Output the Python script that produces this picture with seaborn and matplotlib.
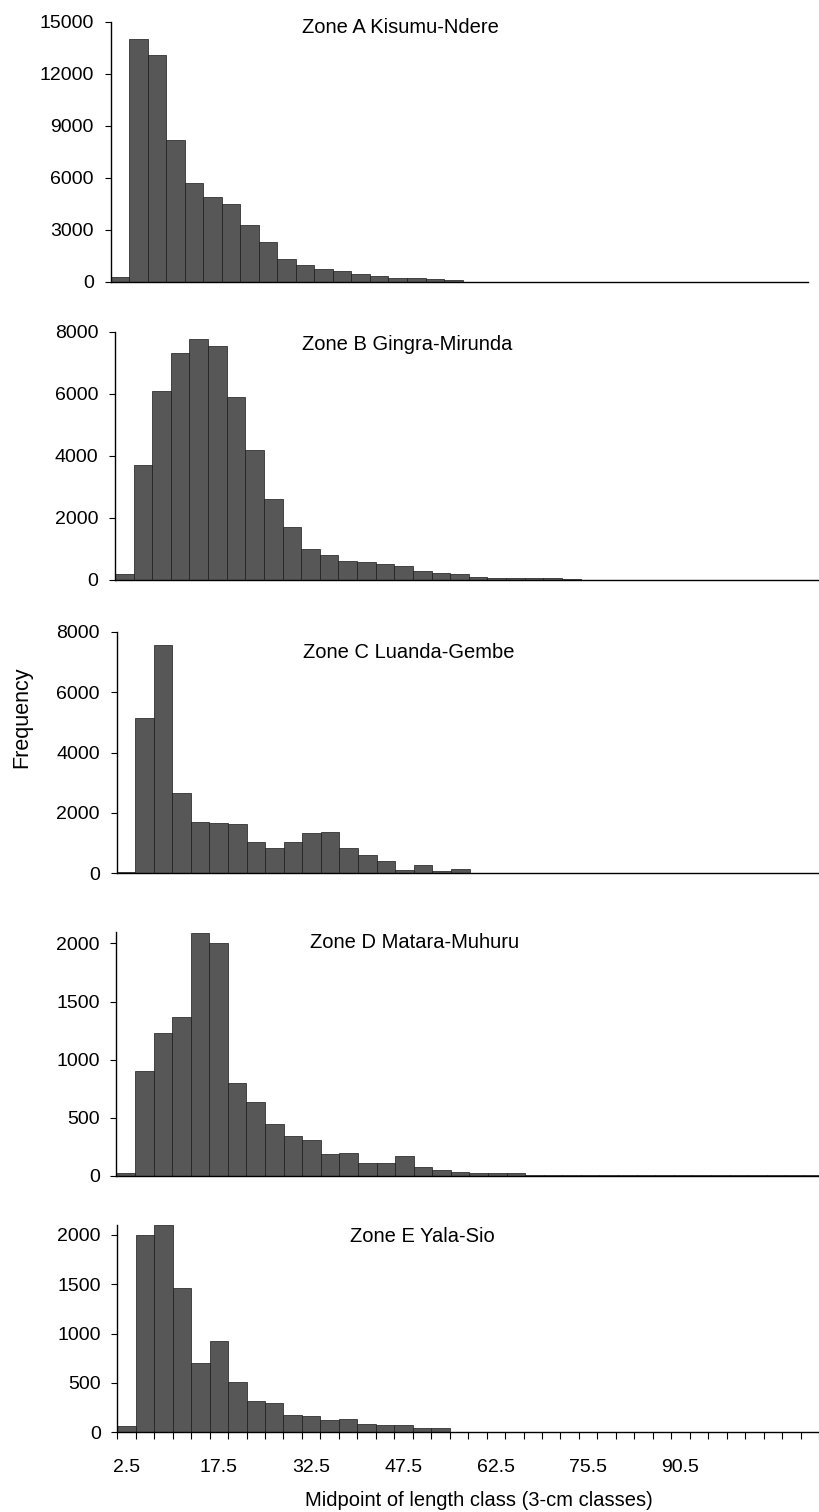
import matplotlib
matplotlib.use("Agg")
import matplotlib.pyplot as plt
import seaborn as sns
import numpy as np

# ---------------- data ----------------
midpoints = ["2.5", "5.5", "8.5", "11.5", "14.5", "17.5", "20.5", "23.5", "26.5", "29.5",
             "32.5", "35.5", "38.5", "41.5", "44.5", "47.5", "50.5", "53.5", "56.5", "59.5",
             "62.5", "65.5", "68.5", "71.5", "74.5", "77.5", "80.5", "83.5", "86.5", "89.5",
             "92.5", "95.5", "98.5", "101.5", "104.5", "107.5", "110.5", "113.5"]

zone_a = [300, 14000, 13100, 8200, 5700, 4900, 4500, 3300, 2300, 1350,
          1000, 750, 620, 480, 350, 250, 210, 155, 100, 10,
          5, 15, 15, 5, 5, 15, 15, 5, 0, 0,
          0, 0, 0, 0, 0, 0, 10, 10]
zone_b = [200, 3700, 6100, 7300, 7750, 7550, 5900, 4200, 2600, 1700,
          1000, 800, 620, 580, 530, 460, 300, 215, 200, 85,
          60, 50, 55, 50, 20, 10, 10, 5, 5, 5,
          5, 5, 5, 5, 5, 5, 5, 5]
zone_c = [50, 5150, 7550, 2650, 1700, 1650, 1620, 1050, 850, 1050,
          1320, 1360, 850, 600, 400, 120, 260, 80, 130, 0,
          0, 0, 0, 0, 0, 0, 5, 5, 5, 5,
          5, 5, 5, 5, 5, 5, 5, 5]
zone_d = [30, 900, 1230, 1370, 2090, 2000, 800, 640, 450, 340,
          310, 190, 200, 110, 110, 175, 75, 55, 35, 25,
          30, 25, 5, 5, 5, 5, 5, 5, 5, 5,
          5, 5, 5, 5, 5, 5, 5, 5]
zone_e = [60, 2000, 2100, 1460, 700, 920, 510, 320, 300, 180,
          165, 120, 130, 80, 70, 75, 45, 45, 0, 0,
          0, 0, 0, 0, 0, 0, 5, 0, 0, 0,
          0, 0, 0, 0, 0, 0, 0, 0]

titles = ["Zone A Kisumu-Ndere", "Zone B Gingra-Mirunda", "Zone C Luanda-Gembe",
          "Zone D Matara-Muhuru", "Zone E Yala-Sio"]
ytick_sets = [[0, 3000, 6000, 9000, 12000, 15000],
              [0, 2000, 4000, 6000, 8000],
              [0, 2000, 4000, 6000, 8000],
              [0, 500, 1000, 1500, 2000],
              [0, 500, 1000, 1500, 2000]]
y_max = [15000, 8000, 8000, 2100, 2100]
xtick_labels = ["2.5", "17.5", "32.5", "47.5", "62.5", "75.5", "90.5"]
xlabel = "Midpoint of length class (3-cm classes)"
ylabel = "Frequency"

series = [zone_a, zone_b, zone_c, zone_d, zone_e]

# ---------------- layout (pixels) ----------------
W, H = 819, 1512
# left, right, top, bottom, bin width (px)
layout = [(110.5, 808, 22, 282, 18.53),
          (115, 819, 331.7, 580, 18.62),
          (116.5, 819, 631.7, 873.3, 18.58),
          (116.4, 819, 931.7, 1176, 18.58),
          (117.3, 819, 1225, 1432.3, 18.68)]
# title left x, baseline y
title_pos = [(301.7, 33.3), (301.7, 350), (303, 658.3), (310, 948.3), (350, 1241.7)]

BAR = "#575757"

sns.set_theme(style="white")
plt.rcParams["font.family"] = ["Liberation Sans", "DejaVu Sans"]

fig = plt.figure(figsize=(W / 100, H / 100), dpi=100)

for i, (vals, (l, r, t, b, bw)) in enumerate(zip(series, layout)):
    ax = fig.add_axes([l / W, 1 - b / H, (r - l) / W, (b - t) / H])
    sns.barplot(x=midpoints, y=vals, order=midpoints, ax=ax, color=BAR,
                width=1.0, edgecolor="#1a1a1a", linewidth=0.5, saturation=1)
    ax.set_xlim(-0.5, -0.5 + (r - l) / bw)
    ax.set_ylim(0, y_max[i])
    ax.set_yticks(ytick_sets[i])
    ax.set_yticklabels([str(v) for v in ytick_sets[i]])
    ax.set_xlabel("")
    ax.set_ylabel("")
    for s in ["top", "right"]:
        ax.spines[s].set_visible(False)
    for s in ["left", "bottom"]:
        ax.spines[s].set_color("black")
        ax.spines[s].set_linewidth(1.0)
    ax.tick_params(axis="y", direction="out", length=4, width=0.8, pad=8,
                   labelsize=14, colors="black", left=True)
    if i < 4:
        ax.set_xticks([])
    else:
        ax.set_xticks(np.arange(-0.5, len(midpoints), 1.0))
        ax.set_xticklabels([])
        ax.tick_params(axis="x", which="major", direction="out", length=5,
                       width=0.8, color="black", bottom=True)
        ax.set_xticks(np.arange(0, 5 * len(xtick_labels), 5), minor=True)
        ax.set_xticklabels(xtick_labels, minor=True)
        ax.tick_params(axis="x", which="minor", length=0, pad=19,
                       labelsize=14, colors="black", bottom=True)
    tx, ty = title_pos[i]
    fig.text(tx / W, 1 - ty / H, titles[i], ha="left", va="baseline",
             fontsize=14.5, color="black")

fig.text(22 / W, 1 - 717 / H, ylabel, rotation=90, ha="center", va="center",
         fontsize=15.5, color="black")
fig.text(479 / W, 1 - 1506.5 / H, xlabel, ha="center", va="baseline",
         fontsize=14.5, color="black")

fig.savefig("out.png", dpi=100)
